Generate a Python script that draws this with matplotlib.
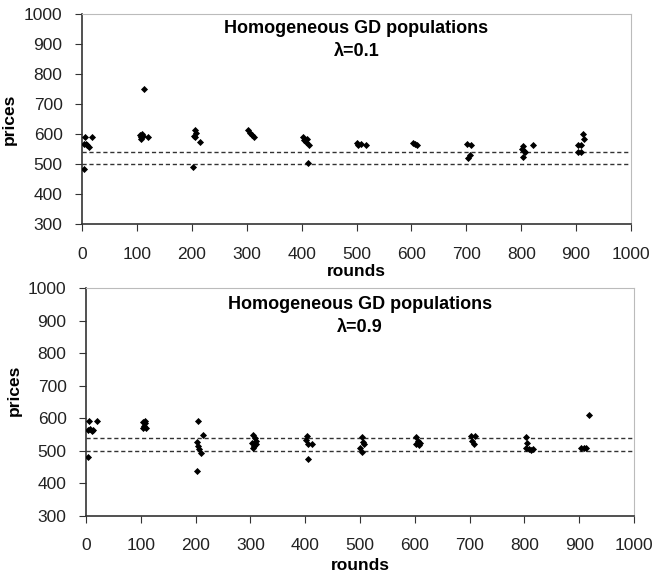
import matplotlib.pyplot as plt
import numpy as np

plt.rcParams["font.family"] = ["Liberation Sans", "DejaVu Sans"]

# lambda = 0.1 panel
rounds_a = [3, 3, 5, 7, 10, 12, 18,
            105, 107, 110, 108, 112, 120, 113,
            205, 207, 204, 206, 215, 203,
            303, 306, 310, 313,
            403, 405, 408, 410, 413, 412,
            500, 503, 508, 518,
            602, 606, 610,
            702, 708, 703, 707,
            803, 801, 805, 807, 804, 822,
            903, 908, 912, 914, 903, 908]
prices_a = [483, 567, 590, 567, 565, 557, 590,
            597, 590, 600, 585, 595, 590, 751,
            615, 605, 595, 590, 575, 490,
            615, 605, 598, 590,
            590, 580, 575, 585, 565, 505,
            570, 565, 568, 565,
            570, 566, 565,
            566, 565, 520, 530,
            560, 550, 545, 540, 525, 565,
            565, 565, 600, 585, 540, 540]

# lambda = 0.9 panel
rounds_b = [3, 5, 8, 11, 13, 20, 3,
            104, 108, 106, 104, 110, 108,
            204, 214, 202, 205, 207, 210, 203,
            305, 308, 310, 303, 307, 305, 310,
            403, 401, 405, 412, 406,
            503, 505, 508, 500, 503,
            603, 605, 603, 608, 610,
            703, 710, 705, 708,
            803, 805, 803, 808, 812, 815,
            903, 908, 913, 918]
prices_b = [565, 593, 568, 560, 565, 593, 481,
            590, 585, 578, 570, 572, 592,
            593, 550, 528, 515, 505, 495, 437,
            548, 540, 530, 525, 515, 508, 520,
            545, 535, 520, 520, 475,
            542, 528, 520, 510, 497,
            542, 530, 522, 518, 525,
            545, 545, 530, 522,
            542, 525, 510, 505, 503, 505,
            510, 510, 510, 611]

band = [500, 540]
xticks = np.arange(0, 1001, 100)
yticks = np.arange(300, 1001, 100)

fig = plt.figure(figsize=(6.58, 5.75), dpi=100)
ax1 = fig.add_axes([0.1246, 0.6099, 0.8344, 0.3658])
ax2 = fig.add_axes([0.1307, 0.1026, 0.8328, 0.3960])

# (axes, x, y, lambda text, title y, lambda y, xlabel y, ylabel y)
panels = [(ax1, rounds_a, prices_a, "\u03bb=0.1", 0.933, 0.82, -0.19, 0.5),
          (ax2, rounds_b, prices_b, "\u03bb=0.9", 0.927, 0.826, -0.185, 0.55)]

for ax, r, p, lab, ty, ly, xly, yly in panels:
    for b in band:
        ax.axhline(b, color="#333333", lw=1.0, ls=(0, (3, 2)), zorder=1)
    ax.scatter(r, p, marker="D", s=13, color="black", zorder=3, linewidths=0)
    ax.set_xlim(0, 1000)
    ax.set_ylim(300, 1000)
    ax.set_xticks(xticks)
    ax.set_yticks(yticks)
    ax.tick_params(axis="x", direction="out", length=5, pad=11, labelsize=12.5,
                   color="#333333", labelcolor="#222222")
    ax.tick_params(axis="y", direction="out", length=5, pad=9, labelsize=12.5,
                   color="#333333", labelcolor="#222222")
    for s in ["top", "right"]:
        ax.spines[s].set_color("#bbbbbb")
    for s in ["left", "bottom"]:
        ax.spines[s].set_color("#333333")
        ax.spines[s].set_linewidth(1.2)
    ax.text(0.5, ty, "Homogeneous GD populations", transform=ax.transAxes,
            ha="center", va="center", fontsize=13, fontweight="bold")
    ax.text(0.5, ly, lab, transform=ax.transAxes,
            ha="center", va="center", fontsize=13, fontweight="bold")
    ax.set_xlabel("rounds", fontsize=12.5, fontweight="bold")
    ax.set_ylabel("prices", fontsize=12.5, fontweight="bold")
    ax.xaxis.set_label_coords(0.5, xly)
    ax.yaxis.set_label_coords(-0.118, yly)

fig.savefig("out.png", dpi=100)
